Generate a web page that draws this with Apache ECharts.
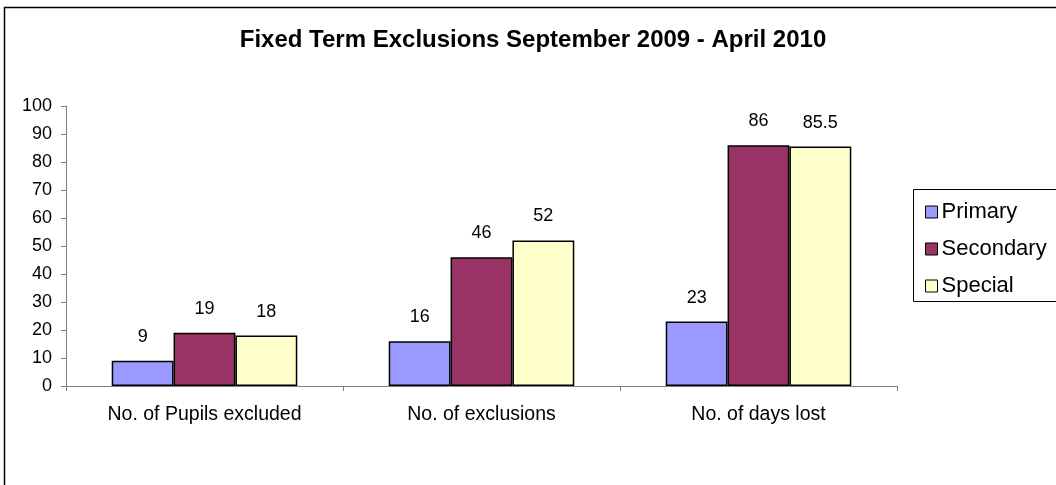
<!DOCTYPE html>
<html>
<head>
<meta charset="utf-8">
<script src="https://cdn.jsdelivr.net/npm/echarts@6/dist/echarts.min.js"></script>
<style>
  html, body { margin: 0; padding: 0; background: #fff; }
  #chart { width: 1056px; height: 485px; }
</style>
</head>
<body>
<div id="chart"></div>
<script>
// Fixed term exclusions by school phase
const categories = ['No. of Pupils excluded', 'No. of exclusions', 'No. of days lost'];
const primary = [9, 16, 23];
const secondary = [19, 46, 86];
const special = [18, 52, 85.5];
const seriesNames = ['Primary', 'Secondary', 'Special'];
const seriesColors = ['#9999FF', '#993366', '#FFFFCC'];
const seriesData = [primary, secondary, special];

const FONT = '"Liberation Sans", Arial, sans-serif';

const chart = echarts.init(document.getElementById('chart'), null, { renderer: 'canvas' });

chart.setOption({
  backgroundColor: '#fff',
  animation: false,
  textStyle: { fontFamily: FONT },
  graphic: [
    {
      // outer chart frame
      type: 'rect',
      shape: { x: 4.5, y: 7.5, width: 1100, height: 600 },
      style: { fill: 'none', stroke: '#000', lineWidth: 1.5 },
      silent: true,
      z: 100
    },
    {
      // legend frame
      type: 'rect',
      shape: { x: 913.5, y: 189.5, width: 200, height: 112 },
      style: { fill: 'none', stroke: '#000', lineWidth: 1 },
      silent: true,
      z: 100
    }
  ],
  title: {
    text: 'Fixed Term Exclusions September 2009 - April 2010',
    left: 528,
    top: 23,
    textAlign: 'center',
    textStyle: { fontFamily: FONT, fontSize: 24, fontWeight: 'bold', color: '#000' }
  },
  legend: {
    orient: 'vertical',
    left: 920,
    top: 196,
    itemWidth: 12,
    itemHeight: 12,
    itemGap: 15,
    icon: 'rect',
    data: seriesNames,
    textStyle: { fontFamily: FONT, fontSize: 22, color: '#000', padding: [0, 0, 0, -1] },
    itemStyle: { borderColor: '#000', borderWidth: 1 }
  },
  grid: { left: 66, right: 159, top: 106, bottom: 99 },
  xAxis: {
    type: 'category',
    data: categories,
    axisLine: { lineStyle: { color: '#808080', width: 1 } },
    axisTick: { show: true, length: 5, lineStyle: { color: '#808080' } },
    axisLabel: { fontFamily: FONT, fontSize: 19.5, color: '#000', margin: 19 }
  },
  yAxis: {
    type: 'value',
    min: 0,
    max: 100,
    interval: 10,
    splitLine: { show: false },
    axisLine: { show: true, lineStyle: { color: '#808080', width: 1 } },
    axisTick: { show: true, length: 5, lineStyle: { color: '#808080' } },
    axisLabel: { fontFamily: FONT, fontSize: 18, color: '#000', margin: 14 }
  },
  series: seriesNames.map((name, i) => ({
    name: name,
    type: 'bar',
    data: seriesData[i],
    barGap: '0%',
    barCategoryGap: '33%',
    itemStyle: { color: seriesColors[i], borderColor: '#000', borderWidth: 1.5 },
    label: {
      show: true,
      position: 'top',
      distance: 15,
      fontFamily: FONT,
      fontSize: 18,
      color: '#000'
    }
  }))
});
</script>
</body>
</html>
